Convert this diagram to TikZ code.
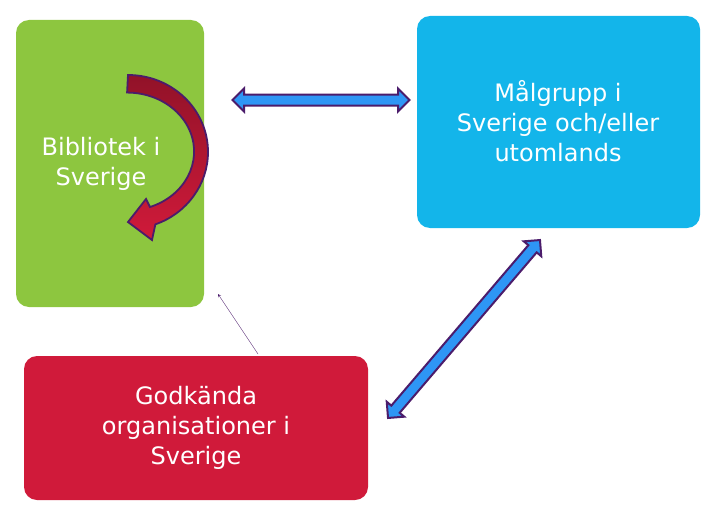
\documentclass[tikz,border=0pt]{standalone}
\usepackage{fontspec}
\setmainfont{DejaVu Sans}
\usetikzlibrary{shapes.arrows}
\definecolor{gr}{HTML}{8DC63F}
\definecolor{bl}{HTML}{13B5EA}
\definecolor{rd}{HTML}{D01A3A}
\definecolor{pu}{HTML}{4B1C6B}
\definecolor{ab}{HTML}{2E96F5}
\tikzset{
 box/.style={rounded corners=13pt, text=white, align=center, font=\fontsize{24}{30}\selectfont, inner sep=0pt},
 darrow/.style={double arrow, fill=ab, draw=pu, line width=2pt, inner xsep=0pt, inner ysep=4.5pt, text height=0pt, text depth=0pt, double arrow head extend=6pt, double arrow head indent=0pt, minimum height=#1}
}
\begin{document}
\begin{tikzpicture}[x=1pt,y=-1pt]
\useasboundingbox (0,0) rectangle (725,527);
\fill[gr, rounded corners=13pt] (16,20) rectangle (204,307);
\fill[bl, rounded corners=13pt] (417,16) rectangle (700,228);
\fill[rd, rounded corners=13pt] (24,356) rectangle (368,500);
\node[box] (bib) at (101,164) {Bibliotek i\\Sverige};
\node[box] (mal) at (558,121) {Målgrupp i\\Sverige och/eller\\utomlands};
\node[box] (god) at (196,428) {Godkända\\organisationer i\\Sverige};
\coordinate (b1) at (218,294);
\coordinate (g1) at (258,354);
\draw[pu, ->, >=stealth] (g1) -- (b1);
\node[darrow=177pt] (h) at (321,100) {};
\node[darrow=234pt, rotate=49.5] (d) at (464,329) {};
\draw[pu, line width=1.8pt, top color=rd!70!black, bottom color=rd]
 (128,75) arc[start angle=-90, end angle=70, x radius=80, y radius=77]
 -- (152,240) -- (128,222) -- (146,199) -- (150,207)
 arc[start angle=70, end angle=-90, x radius=67, y radius=59] -- cycle;
\end{tikzpicture}
\end{document}
